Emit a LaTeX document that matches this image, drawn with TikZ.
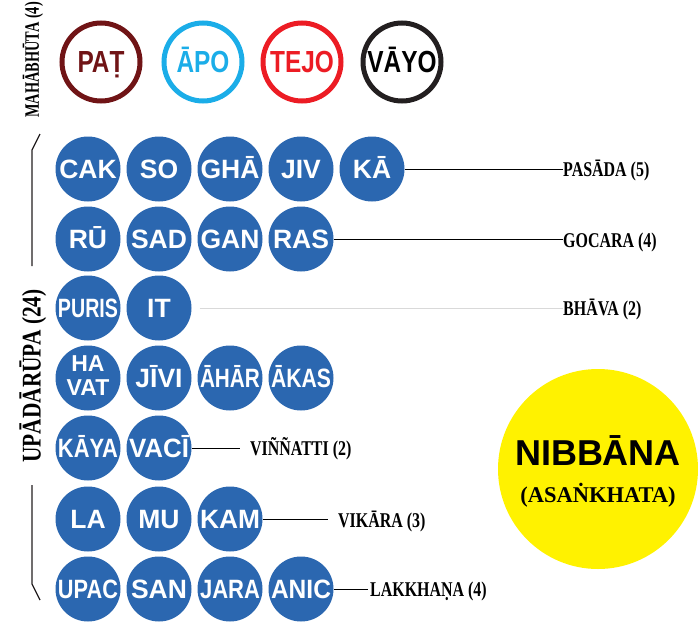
\documentclass[tikz,border=0pt]{standalone}
\usepackage{fontspec}
\usepackage{graphicx}
\setmainfont{Liberation Serif}
\setsansfont{Liberation Sans}
\newfontfamily\sansnarrow[FakeStretch=0.8]{Liberation Sans}
\newfontfamily\serifnarrow[FakeStretch=0.76]{Liberation Serif}
\newfontfamily\serifnarrowc[FakeStretch=0.79]{Liberation Serif}
\newfontfamily\serifnarrowb[FakeStretch=0.7]{Liberation Serif}
\definecolor{pblue}{RGB}{43,103,176}
\definecolor{pdred}{RGB}{112,20,22}
\definecolor{pcyan}{RGB}{27,173,232}
\definecolor{pred}{RGB}{236,28,36}
\definecolor{pblack}{RGB}{35,31,32}
\definecolor{pyellow}{RGB}{255,242,0}
\newsavebox\fitbox
\newcommand\fitw[1]{\sbox\fitbox{#1}\ifdim\wd\fitbox>60pt\resizebox{60pt}{\height}{\usebox\fitbox}\else\usebox\fitbox\fi}
\tikzset{
  bcirc/.style={circle, fill=pblue, minimum size=65pt, inner sep=0pt, text=white,
    font=\sffamily\bfseries\fontsize{26.5}{26.5}\selectfont, text height=19pt, text depth=0pt},
  ring/.style={circle, draw=#1, line width=5pt, minimum size=78pt, inner sep=0pt, text=#1,
    font=\sansnarrow\bfseries\fontsize{30.5}{30.5}\selectfont, text height=22pt, text depth=0pt},
  grouplabel/.style={anchor=west, inner sep=0pt, text height=14pt, text depth=0pt,
    font=\serifnarrow\bfseries\fontsize{21}{21}\selectfont},
  sidelabel/.style={rotate=90, inner sep=0pt},
  conn/.style={line width=1pt, black},
  brack/.style={line width=1.3pt, pblack},
}
\begin{document}
\begin{tikzpicture}[x=1pt, y=-1pt]
\useasboundingbox (0,0) rectangle (698,626);

% Mahabhuta
\node[sidelabel, font=\serifnarrowb\bfseries\fontsize{20.5}{20.5}\selectfont] (mahabhuta) at (33,60) {MAHĀBHŪTA (4)};
\node[ring=pdred] (pat) at (101,62) {PAṬ};
\node[ring=pcyan] (apo) at (203,62) {ĀPO};
\node[ring=pred] (tejo) at (302,62) {TEJO};
\node[ring=pblack, text=black] (vayo) at (402,62) {VĀYO};

% Upadarupa
\node[sidelabel, font=\serifnarrowc\bfseries\fontsize{27}{27}\selectfont] (upadarupa) at (33,376) {UPĀDĀRŪPA (24)};
\draw[brack] (40,134) -- (32,150) -- (32,266);
\draw[brack] (32,485) -- (32,584) -- (40,600);

% row 1
\node[bcirc] (cak) at (88,169) {\fitw{CAK}};
\node[bcirc] (so) at (159,169) {\fitw{SO}};
\node[bcirc] (gha) at (230,169) {\fitw{GHĀ}};
\node[bcirc] (jiv) at (301,169) {\fitw{JIV}};
\node[bcirc] (ka) at (372,169) {\fitw{KĀ}};
% row 2
\node[bcirc] (ru) at (88,239) {\fitw{RŪ}};
\node[bcirc] (sad) at (159,239) {\fitw{SAD}};
\node[bcirc] (gan) at (230,239) {\fitw{GAN}};
\node[bcirc] (ras) at (301,239) {\fitw{RAS}};
% row 3
\node[bcirc] (puris) at (88,308) {\fitw{PURIS}};
\node[bcirc] (it) at (159,308) {\fitw{IT}};
% row 4
\node[bcirc, text height=0pt, font=\sffamily\bfseries\fontsize{23}{23}\selectfont] (havat) at (88,378)
  {\raisebox{-7pt}{\begin{tabular}{@{}c@{}}HA\\[1pt]VAT\end{tabular}}};
\node[bcirc] (jivi) at (159,378) {\fitw{JĪVI}};
\node[bcirc] (ahar) at (230,378) {\fitw{ĀHĀR}};
\node[bcirc] (akas) at (301,378) {\fitw{ĀKAS}};
% row 5
\node[bcirc] (kaya) at (88,448) {\fitw{KĀYA}};
\node[bcirc] (vaci) at (159,448) {\fitw{VACĪ}};
% row 6
\node[bcirc] (la) at (88,519) {\fitw{LA}};
\node[bcirc] (mu) at (159,519) {\fitw{MU}};
\node[bcirc] (kam) at (230,519) {\fitw{KAM}};
% row 7
\node[bcirc] (upac) at (88,589) {\fitw{UPAC}};
\node[bcirc] (san) at (159,589) {\fitw{SAN}};
\node[bcirc] (jara) at (230,589) {\fitw{JARA}};
\node[bcirc] (anic) at (301,589) {\fitw{ANIC}};

% group labels
\node[grouplabel] (pasada) at (563,169) {PASĀDA (5)};
\node[grouplabel] (gocara) at (563,240) {GOCARA (4)};
\node[grouplabel] (bhava) at (563,308) {BHĀVA (2)};
\node[grouplabel] (vinnatti) at (250,448) {VIÑÑATTI (2)};
\node[grouplabel] (vikara) at (338,520) {VIKĀRA (3)};
\node[grouplabel] (lakkhana) at (370,589) {LAKKHAṆA (4)};

\draw[conn] (ka.east) -- (pasada.west);
\draw[conn] (ras.east) -- (ras.east -| gocara.west);
\draw[line width=0.8pt, black!15] ([xshift=8pt]it.east) -- (bhava.west);
\draw[conn] (vaci.east) -- ([xshift=-10pt]vinnatti.west);
\draw[conn] (kam.east) -- ([xshift=-10pt]kam.east -| vikara.west);
\draw[conn] (anic.east) -- ([xshift=-2pt]lakkhana.west);

% Nibbana
\node[circle, fill=pyellow, minimum size=200pt, inner sep=0pt] (nibbana) at (598,469) {};
\node[inner sep=0pt, font=\sffamily\bfseries\fontsize{36}{36}\selectfont] (nibbanatitle) at (598,451) {NIBBĀNA};
\node[inner sep=0pt, font=\bfseries\fontsize{22.5}{22.5}\selectfont] (asankhata) at (598,495) {(ASAṄKHATA)};
\end{tikzpicture}
\end{document}
